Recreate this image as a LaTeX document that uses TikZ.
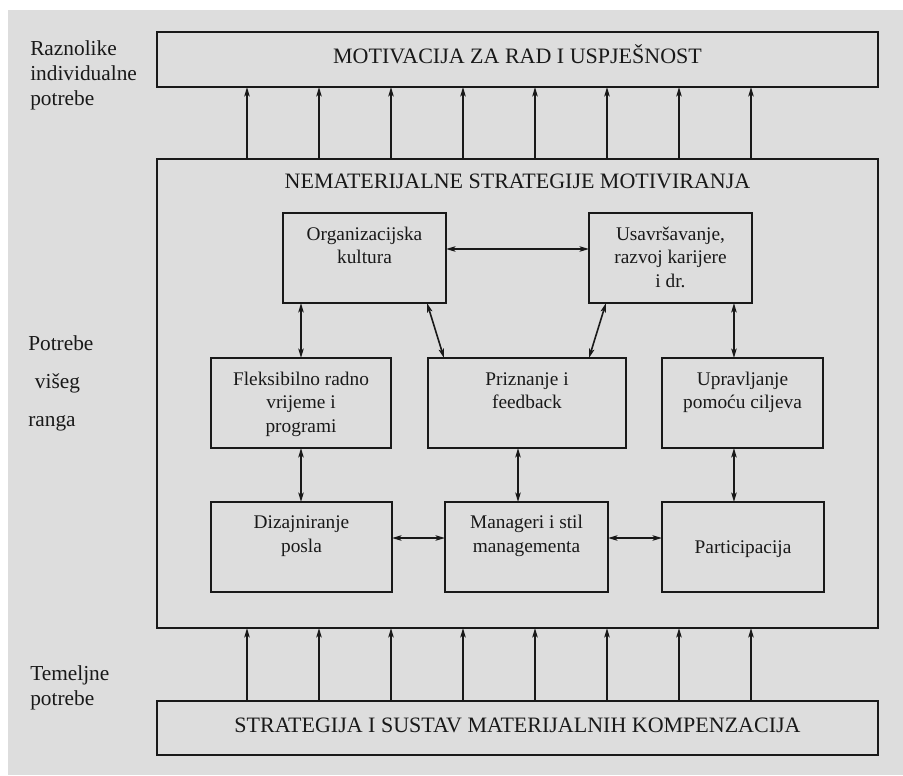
\documentclass[tikz,border=0pt]{standalone}
\usepackage{fontspec}
\setmainfont{Liberation Serif}
\usetikzlibrary{arrows.meta}
\definecolor{bgcol}{RGB}{221,221,221}
\definecolor{inkcol}{RGB}{25,25,25}
\tikzset{
  box/.style={draw=inkcol, line width=1.2pt, rectangle, inner sep=0pt, outer sep=0pt},
  titletext/.style={font=\fontsize{16.5}{19}\selectfont, text=inkcol, inner sep=0pt},
  sidetext/.style={font=\fontsize{16}{18.75}\selectfont, text=inkcol, inner sep=0pt, align=left, anchor=north west},
  itext/.style={font=\fontsize{14.5}{17.6}\selectfont, text=inkcol, inner sep=0pt, align=center, anchor=north},
  uparrow/.style={draw=inkcol, line width=1.2pt, -{Stealth[length=7pt,width=4pt,inset=1.5pt]}},
  dblarrow/.style={draw=inkcol, line width=1.2pt, {Stealth[length=7pt,width=4pt,inset=1.5pt]}-{Stealth[length=7pt,width=4pt,inset=1.5pt]}}
}
\begin{document}
\begin{tikzpicture}[x=0.75pt,y=-0.75pt]
\useasboundingbox (0,0) rectangle (903,775);
\fill[white] (0,0) rectangle (903,775);
\fill[bgcol] (8,10) rectangle (903,775);

% outer boxes
\node[box, minimum width=540.75pt, minimum height=41.25pt, titletext, text height=0.66em, text depth=0pt] (mot) at (517.5,59.5) {MOTIVACIJA ZA RAD I USPJEŠNOST};
\node[box, minimum width=540.75pt, minimum height=351.75pt] (nem) at (517.5,393.5) {};
\node[box, minimum width=540.75pt, minimum height=40.5pt, titletext, text height=0.66em, text depth=0pt] (str) at (517.5,728) {STRATEGIJA I SUSTAV MATERIJALNIH KOMPENZACIJA};
\node[titletext, anchor=base] (nemt) at ([yshift=-21.75pt]nem.north) {NEMATERIJALNE STRATEGIJE MOTIVIRANJA};

% inner boxes
\node[box, minimum width=122.25pt, minimum height=67.5pt] (org) at (364.5,258) {};
\node[box, minimum width=122.25pt, minimum height=67.5pt] (usav) at (670.5,258) {};
\node[box, minimum width=135pt, minimum height=67.5pt] (flex) at (301,403) {};
\node[box, minimum width=148.5pt, minimum height=67.5pt] (priz) at (527,403) {};
\node[box, minimum width=120.75pt, minimum height=67.5pt] (upr) at (742.5,403) {};
\node[box, minimum width=135.75pt, minimum height=67.5pt] (diz) at (301.5,547) {};
\node[box, minimum width=122.25pt, minimum height=67.5pt] (man) at (526.5,547) {};
\node[box, minimum width=121.5pt, minimum height=67.5pt] (part) at (743,547) {};

% inner texts
\node[itext] (orgt) at ([yshift=-8pt]org.north) {\strut Organizacijska\\kultura};
\node[itext] (usavt) at ([yshift=-8pt]usav.north) {\strut Usavršavanje,\\razvoj karijere\\i dr.};
\node[itext] (flext) at ([yshift=-8pt]flex.north) {\strut Fleksibilno radno\\vrijeme i\\programi};
\node[itext] (prizt) at ([yshift=-8pt]priz.north) {\strut Priznanje i\\feedback};
\node[itext] (uprt) at ([yshift=-8pt]upr.north) {\strut Upravljanje\\pomoću ciljeva};
\node[itext] (dizt) at ([yshift=-7.5pt]diz.north) {\strut Dizajniranje\\posla};
\node[itext] (mant) at ([yshift=-7.5pt]man.north) {\strut Manageri i stil\\managementa};
\node[itext] (partt) at ([yshift=-26pt]part.north) {\strut Participacija};

% side labels
\node[sidetext] (s1) at (30,40.5) {Raznolike\\individualne\\potrebe};
\node[sidetext] (s2) at (28,335.5) {Potrebe\\[9.75pt]\hspace*{5pt}višeg\\[9.75pt]ranga};
\node[sidetext] (s3) at (30,665.5) {Temeljne\\potrebe};

% vertical arrows between outer boxes
\foreach \i in {0,...,7}{
  \draw[uparrow] ([xshift={(67.5+54*\i)*1pt}]str.north west) -- ([xshift={(67.5+54*\i)*1pt}]nem.south west);
  \draw[uparrow] ([xshift={(67.5+54*\i)*1pt}]nem.north west) -- ([xshift={(67.5+54*\i)*1pt}]mot.south west);
}

% inner connectors
\draw[dblarrow] ([yshift=6.75pt]org.east) -- ([yshift=6.75pt]org.east -| usav.west);
\draw[dblarrow] (flex.north |- org.south) -- (flex.north);
\draw[dblarrow] ([xshift=46.9pt]org.south) -- ([xshift=-62.25pt]priz.north);
\draw[dblarrow] ([xshift=-48.4pt]usav.south) -- ([xshift=46.5pt]priz.north);
\draw[dblarrow] ([xshift=-6.4pt]upr.north |- usav.south) -- ([xshift=-6.4pt]upr.north);
\draw[dblarrow] (flex.south) -- (flex.south |- diz.north);
\draw[dblarrow] ([xshift=-6.75pt]priz.south) -- ([xshift=-6.75pt]priz.south |- man.north);
\draw[dblarrow] ([xshift=-6.4pt]upr.south) -- ([xshift=-6.4pt]upr.south |- part.north);
\draw[dblarrow] ([yshift=6.75pt]diz.east) -- ([yshift=6.75pt]diz.east -| man.west);
\draw[dblarrow] ([yshift=6.75pt]man.east) -- ([yshift=6.75pt]man.east -| part.west);
\end{tikzpicture}
\end{document}
